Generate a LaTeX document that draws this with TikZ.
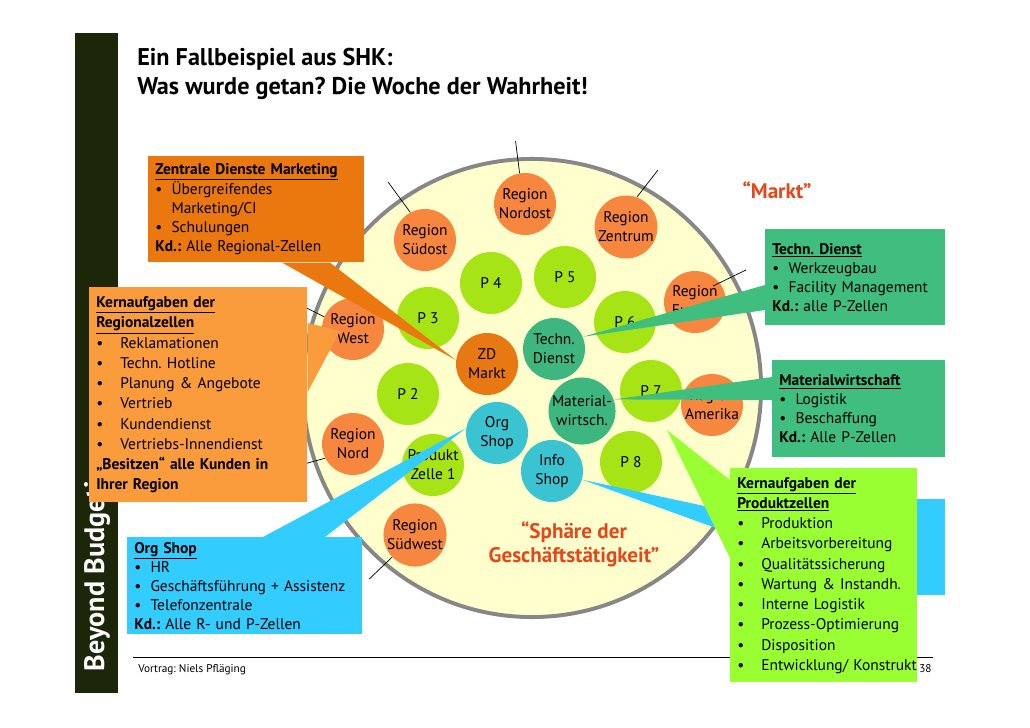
\documentclass[tikz,border=0pt]{standalone}
\usepackage{fontspec}
\setmainfont{PT Sans}
\frenchspacing
\definecolor{regor}{RGB}{247,134,62}
\definecolor{zdor}{RGB}{232,120,18}
\definecolor{plime}{RGB}{166,228,22}
\definecolor{tgreen}{RGB}{62,182,128}
\definecolor{shopcy}{RGB}{58,196,210}
\definecolor{bigfill}{RGB}{255,255,206}
\definecolor{rimgray}{RGB}{135,135,135}
\definecolor{boxor}{RGB}{234,120,14}
\definecolor{boxlor}{RGB}{250,155,60}
\definecolor{boxgr}{RGB}{64,190,128}
\definecolor{boxcy}{RGB}{51,204,255}
\definecolor{boxlime}{RGB}{153,255,51}
\definecolor{barcol}{RGB}{28,38,8}
\definecolor{redtx}{RGB}{230,70,25}
\newcommand{\bul}[1]{\mbox{\makebox[1.05em][l]{\textbullet}#1}}
\newcommand{\bulw}[1]{\mbox{\makebox[1.55em][l]{\textbullet}#1}}
\newcommand{\hd}[1]{\textbf{\underline{#1}}}
\newcommand{\kd}[1]{\mbox{\textbf{Kd.:} #1}}
\begin{document}
\begin{tikzpicture}[x=0.025cm,y=-0.025cm,
  every node/.style={font=\fontsize{11}{13.5}\selectfont},
  cell/.style={circle,minimum size=1.55cm,inner sep=0pt,align=center},
  region/.style={cell,fill=regor},
  pcell/.style={cell,fill=plime},
  zcell/.style={cell,fill=tgreen},
  shop/.style={cell,fill=shopcy},
  infobox/.style={anchor=north west,inner xsep=0.175cm,inner ysep=0pt,align=left},
  bigbox/.style={infobox,font=\fontsize{11}{14.4}\selectfont},
  tick/.style={black,line width=0.5pt},
  redtext/.style={text=redtx,font=\fontsize{15}{17}\bfseries\selectfont,align=center}]
\useasboundingbox (0,0) rectangle (1030,728);
\fill[barcol] (75,33) rectangle (118,693);
\node[rotate=90,anchor=west,text=white,font=\fontsize{20}{20}\bfseries\selectfont] (bb) at (97,676) {Beyond Budgeting};
\node[anchor=base west,inner sep=0pt,font=\fontsize{17.2}{20}\bfseries\selectfont] (title1) at (137,66) {Ein Fallbeispiel aus SHK:};
\node[anchor=base west,inner sep=0pt,font=\fontsize{17.2}{20}\bfseries\selectfont] (title2) at (137,95) {Was wurde getan? Die Woche der Wahrheit!};
\node[circle,draw=rimgray,fill=bigfill,line width=2.8pt,minimum size=11.45cm] (sphere) at (532,388) {};
\node[region] (rsuedost) at (425,240) {Region\\Südost};
\node[region] (rnordost) at (525,204) {Region\\Nordost};
\node[region] (rzentrum) at (626,227) {Region\\Zentrum};
\node[region] (reuropa) at (695,302) {Region\\Europa};
\node[region] (rwest) at (353,329) {Region\\West};
\node[region] (rnord) at (353,444) {Region\\Nord};
\node[region] (rsuedwest) at (415,535) {Region\\Südwest};
\node[region] (ramerika) at (712,405) {Region\\Amerika};
\node[pcell] (p4) at (491,283) {P 4};
\node[pcell] (p5) at (565,277) {P 5};
\node[pcell] (p3) at (428,318) {P 3};
\node[pcell] (p6) at (625,322) {P 6};
\node[pcell] (p2) at (408,394) {P 2};
\node[pcell] (p7) at (651,391) {P 7};
\node[pcell] (p8) at (631,462) {P 8};
\node[pcell] (pz1) at (433,465) {Produkt\\Zelle 1};
\node[cell,fill=zdor] (zdm) at (487,364) {ZD\\Markt};
\node[zcell] (tdienst) at (554,349) {Techn.\\Dienst};
\node[zcell] (mwirt) at (582,411) {Material-\\wirtsch.};
\node[shop] (oshop) at (497,433) {Org\\Shop};
\node[shop] (ishop) at (552,471) {Info\\Shop};
\draw[tick] (rsuedost.118) -- ++(-22,-30);
\draw[tick] (rnordost.100) -- ++(-4,-32);
\draw[tick] (rzentrum.70) -- ++(21,-27);
\draw[tick] ([shift={(18,-16)}]reuropa.center) -- ++(33,-16);
\draw[tick] (rwest.157) -- ++(-18,-9);
\draw[tick] (rnord.207) -- ++(-18,5);
\draw[tick] (rsuedwest.224) -- ++(-23,22);
\node[redtext] (markt) at (777,190) {“Markt”};
\node[redtext] (sphaere) at (574,544) {“Sphäre der\\Geschäftstätigkeit”};
\coordinate (footl) at (133,657);
\coordinate (footr) at (933,657);
\draw[line width=0.6pt] (footl) -- (footr);
\node[anchor=west,inner sep=0pt,font=\fontsize{8}{10}\selectfont] (vortrag) at (138,670) {Vortrag: Niels Pfläging};
\node[anchor=west,inner sep=0pt,font=\fontsize{8}{10}\selectfont] (pagenum) at (919,669) {38};
\node[infobox,fill=boxor,text width=5.05cm,minimum height=2.65cm] (zdbox) at (148,156) {\hd{Zentrale Dienste Marketing}\\\bul{Übergreifendes}\\\hspace*{1.05em}Marketing/CI\\\bul{Schulungen}\\\kd{Alle Regional-Zellen}};
\fill[boxor] (zdm.173) -- ([shift={(134,0)}]zdbox.south west) -- ([shift={(182,0)}]zdbox.south west) -- cycle;
\node[bigbox,fill=boxlor,text width=5.1cm,minimum height=5.375cm] (rgbox) at (89,287) {\hd{Kernaufgaben der}\\\hd{Regionalzellen}\\\bulw{Reklamationen}\\\bulw{Techn. Hotline}\\\bulw{Planung \& Angebote}\\\bulw{Vertrieb}\\\bulw{Kundendienst}\\\bulw{Vertriebs-Innendienst}\\\mbox{\textbf{„Besitzen“ alle Kunden in}}\\\textbf{Ihrer Region}};
\fill[boxlor] ([shift={(-13,2)}]rwest.center) -- ([shift={(0,36)}]rgbox.north east) -- ([shift={(0,105)}]rgbox.north east) -- cycle;
\node[infobox,fill=boxgr,text width=4.15cm,minimum height=2.4cm] (tdbox) at (765,229) {\hd{Techn. Dienst}\\\bul{Werkzeugbau}\\\bul{Facility Management}\\\kd{alle P-Zellen}};
\fill[boxgr] (tdienst.23) -- ([shift={(0,56)}]tdbox.north west) -- ([shift={(0,81)}]tdbox.north west) -- cycle;
\node[infobox,fill=boxgr,text width=3.975cm,minimum height=2.425cm] (mwbox) at (772,360) {\hd{Materialwirtschaft}\\\bul{Logistik}\\\bul{Beschaffung}\\\kd{Alle P-Zellen}};
\fill[boxgr] (mwirt.20) -- ([shift={(0,17)}]mwbox.north west) -- ([shift={(0,40)}]mwbox.north west) -- cycle;
\node[infobox,fill=boxcy,text width=5.525cm,minimum height=2.425cm] (osbox) at (127,537) {\hd{Org Shop}\\\bul{HR}\\\bul{Geschäftsführung + Assistenz}\\\bul{Telefonzentrale}\\\kd{Alle R- und P-Zellen}};
\fill[boxcy] (oshop.171) -- ([shift={(136,0)}]osbox.north west) -- ([shift={(198,0)}]osbox.north west) -- cycle;
\node[infobox,fill=boxcy,text width=4.275cm,minimum height=2.4cm] (isbox) at (760,499) {};
\fill[boxcy] (ishop.-16) -- ([shift={(0,19)}]isbox.north west) -- ([shift={(0,45)}]isbox.north west) -- cycle;
\node[bigbox,fill=boxlime,text width=4.325cm,minimum height=5.35cm] (pzbox) at (730,468) {\hd{Kernaufgaben der}\\\hd{Produktzellen}\\\bulw{Produktion}\\\bulw{Arbeitsvorbereitung}\\\bulw{Qualitätssicherung}\\\bulw{Wartung \& Instandh.}\\\bulw{Interne Logistik}\\\bulw{Prozess-Optimierung}\\\bulw{Disposition}\\\bulw{Entwicklung/ Konstrukt}};
\fill[boxlime] ([shift={(16,39)}]p7.center) -- ([shift={(0,12)}]pzbox.north west) -- ([shift={(0,90)}]pzbox.north west) -- cycle;
\end{tikzpicture}
\end{document}
